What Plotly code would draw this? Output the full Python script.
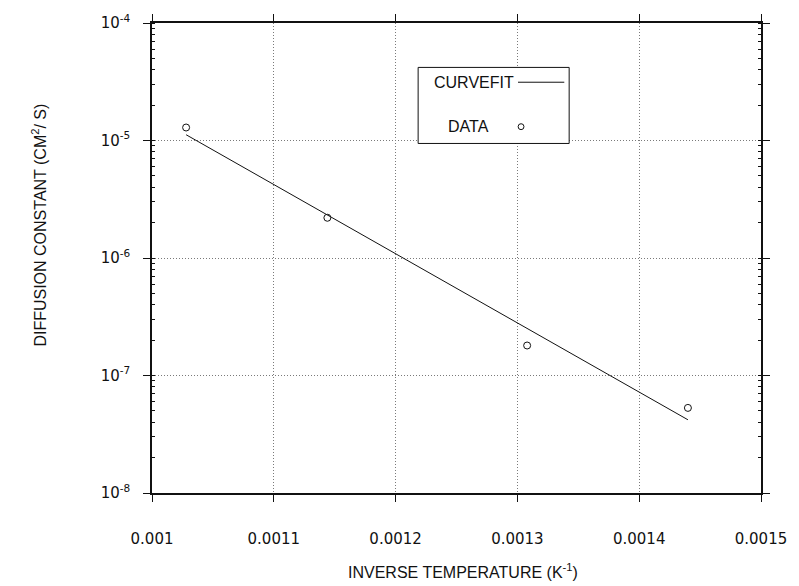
import plotly.graph_objects as go

# ---- data ----
data_x = [0.001028, 0.001144, 0.001308, 0.00144]
data_y = [1.29e-5, 2.2e-6, 1.8e-7, 5.3e-8]

fit_x = [0.001028, 0.00144]
fit_y = [1.12e-5, 4.2e-8]

x_tickvals = [0.001, 0.0011, 0.0012, 0.0013, 0.0014, 0.0015]
x_ticktext = ["0.001", "0.0011", "0.0012", "0.0013", "0.0014", "0.0015"]
y_tickvals = [1e-8, 1e-7, 1e-6, 1e-5, 1e-4]
y_ticktext = ["10<sup>-8</sup>", "10<sup>-7</sup>", "10<sup>-6</sup>", "10<sup>-5</sup>", "10<sup>-4</sup>"]

legend_labels = ["CURVEFIT", "DATA"]

INK = "#111111"
GRID = "#7a7a7a"

fig = go.Figure()
fig.add_trace(go.Scatter(x=fit_x, y=fit_y, mode="lines",
                         line=dict(color=INK, width=1), showlegend=False,
                         hoverinfo="skip"))
fig.add_trace(go.Scatter(x=data_x, y=data_y, mode="markers",
                         marker=dict(symbol="circle-open", size=7,
                                     color=INK, line=dict(width=1, color=INK)),
                         showlegend=False))

xr = [0.001, 0.0015]
yr = [-8, -4]

common_x = dict(range=xr, tickvals=x_tickvals, linecolor=INK, linewidth=1.5,
                tickcolor=INK, tickwidth=1, ticklen=7, zeroline=False)
common_y = dict(type="log", range=yr, tickvals=y_tickvals, linecolor=INK,
                linewidth=1.5, tickcolor=INK, tickwidth=1, ticklen=7,
                zeroline=False)

fig.update_layout(
    width=799, height=586,
    margin=dict(l=152, r=27, t=17, b=93),
    paper_bgcolor="white", plot_bgcolor="white",
    font=dict(family="Liberation Sans, Arial, sans-serif", color=INK, size=15),
    showlegend=False,
    xaxis=dict(**common_x, ticktext=x_ticktext, ticks="outside",
               mirror="allticks", showline=True,
               showgrid=True, gridcolor=GRID, griddash="1px,2px", gridwidth=1,
               tickfont=dict(family="DejaVu Sans", size=15, color=INK),
               ticklabelstandoff=24),
    xaxis2=dict(**common_x, overlaying="x", matches="x", ticks="inside",
                mirror="allticks", showline=True, showticklabels=False,
                showgrid=False, anchor="y"),
    yaxis=dict(**common_y, ticktext=y_ticktext, ticks="outside",
               mirror="allticks", showline=True,
               showgrid=True, gridcolor=GRID, griddash="1px,2px", gridwidth=1,
               minor=dict(ticks="inside", ticklen=3, tickcolor=INK,
                          dtick="D1", showgrid=False),
               tickfont=dict(family="DejaVu Sans", size=15, color=INK),
               ticklabelstandoff=10),
    yaxis2=dict(**common_y, overlaying="y", matches="y", ticks="inside",
                mirror="allticks", showline=True, showticklabels=False,
                showgrid=False, anchor="x",
                minor=dict(ticks="inside", ticklen=3, tickcolor=INK,
                           dtick="D1", showgrid=False)),
)

# axis titles
fig.add_annotation(text="INVERSE TEMPERATURE (K<sup>-1</sup>)",
                   xref="paper", yref="paper", x=0.511, y=-0.166,
                   xanchor="center", yanchor="middle", showarrow=False,
                   font=dict(family="Liberation Sans", size=16, color=INK))
fig.add_annotation(text="DIFFUSION CONSTANT (CM<sup>2</sup>/ S)",
                   xref="paper", yref="paper", x=-0.1855, y=0.569,
                   xanchor="center", yanchor="middle", showarrow=False,
                   textangle=-90,
                   font=dict(family="Liberation Sans", size=16, color=INK))

# hand-drawn legend (label first, symbol to the right, as in the reference)
fig.add_shape(type="rect", xref="paper", yref="paper",
              x0=0.437, x1=0.685, y0=0.7437, y1=0.9055,
              line=dict(color=INK, width=1), fillcolor="white", layer="above")
fig.add_annotation(text=legend_labels[0], xref="paper", yref="paper",
                   x=0.459, y=0.874, xanchor="left", yanchor="middle",
                   showarrow=False,
                   font=dict(family="Liberation Sans", size=16, color=INK))
fig.add_shape(type="line", xref="paper", yref="paper",
              x0=0.601, x1=0.677, y0=0.874, y1=0.874,
              line=dict(color=INK, width=1), layer="above")
fig.add_annotation(text=legend_labels[1], xref="paper", yref="paper",
                   x=0.4835, y=0.7794, xanchor="left", yanchor="middle",
                   showarrow=False,
                   font=dict(family="Liberation Sans", size=16, color=INK))
fig.add_shape(type="circle", xref="paper", yref="paper",
              x0=0.606 - 0.0048, x1=0.606 + 0.0048,
              y0=0.7794 - 0.0063, y1=0.7794 + 0.0063,
              line=dict(color=INK, width=1), layer="above")

fig.write_html("out.html",
               config={"displayModeBar": False},
               post_script="document.body.style.margin='0';"
                           "document.body.style.padding='0';")
